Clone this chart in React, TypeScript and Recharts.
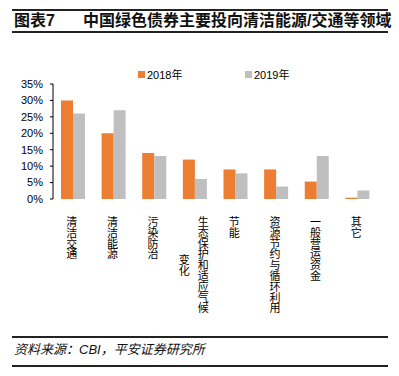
import React from 'react';
import { BarChart, Bar, XAxis, YAxis, Legend } from 'recharts';

const categories = ['清洁交通', '清洁能源', '污染防治', '生态保护和适应气候变化', '节能', '资源节约与循环利用', '一般营运资金', '其它'];
const values2018 = [30, 20, 14, 12, 9, 9, 5.3, 0.4];
const values2019 = [26, 27, 13.1, 6.1, 7.8, 3.8, 13.1, 2.6];
const yTicks = [0, 5, 10, 15, 20, 25, 30, 35];
const seriesNames = ['2018年', '2019年'];
const colors = ['#ED7D31', '#BFBFBF'];

const data = categories.map((name, i) => ({ name, a: values2018[i], b: values2019[i] }));
const boundaryTicks = categories.map((_, i) => i).concat([categories.length]);

const FONT = '"Liberation Sans", Arial, "Noto Sans CJK SC", sans-serif';
const MAXCOL = 9;
const LINE = 10.8;

const VerticalTick = (props: any) => {
  const x = Number(props.x);
  const y = Number(props.y);
  const label: string = String(props.payload.value);
  const cols: string[] = [];
  for (let i = 0; i < label.length; i += MAXCOL) cols.push(label.slice(i, i + MAXCOL));
  const colGap = 19;
  const baseX = x - 1.5;
  const firstH = cols[0].length * LINE;
  const items: React.ReactNode[] = [];
  cols.forEach((col, ci) => {
    const cx = baseX + ((cols.length - 1) / 2 - ci) * colGap;
    const h = col.length * LINE;
    const startY = y + 19 + (ci === 0 ? 0 : (firstH - h) / 2);
    Array.from(col).forEach((ch, k) => {
      items.push(
        <text key={`${ci}-${k}`} x={cx} y={startY + k * LINE} textAnchor="middle" fontSize={11} fill="#000" fontFamily={FONT}>
          {ch}
        </text>
      );
    });
  });
  return <g>{items}</g>;
};

const LegendContent = () => (
  <div style={{ display: 'flex', fontFamily: FONT, fontSize: 11, color: '#000' }}>
    {seriesNames.map((n, i) => (
      <div key={n} style={{ display: 'flex', alignItems: 'center', width: 107 }}>
        <span style={{ display: 'inline-block', width: 7, height: 7, background: colors[i], marginRight: 2 }} />
        <span>{n}</span>
      </div>
    ))}
  </div>
);

export default function App() {
  return (
    <div style={{ position: 'fixed', left: 0, top: 0, width: 399, height: 376, background: '#fff', fontFamily: FONT }}>
      <div style={{ position: 'absolute', left: 12, top: 9, width: 376, height: 1.5, background: '#222' }} />
      <div style={{ position: 'absolute', left: 14, top: 11, fontSize: 16, fontWeight: 'bold', color: '#111', lineHeight: '20px', whiteSpace: 'nowrap' }}>
        图表7
      </div>
      <div style={{ position: 'absolute', left: 83, top: 11, fontSize: 16, fontWeight: 'bold', color: '#111', lineHeight: '20px', whiteSpace: 'nowrap' }}>
        中国绿色债券主要投向清洁能源/交通等领域
      </div>
      <div style={{ position: 'absolute', left: 12, top: 31, width: 376, height: 1.5, background: '#222' }} />

      <div style={{ position: 'absolute', left: 0, top: 0 }}>
        <BarChart width={399} height={320} data={data} margin={{ top: 84, right: 21, left: 0, bottom: 6 }} barGap={0} barSize={12}>
          <XAxis xAxisId="num" type="number" domain={[0, categories.length]} ticks={boundaryTicks} allowDataOverflow height={0} tick={false} tickSize={3} stroke="#000" axisLine={{ stroke: '#000' }} tickLine={{ stroke: '#000' }} />
          <XAxis xAxisId="cat" dataKey="name" height={115} axisLine={false} tickLine={false} interval={0} tick={<VerticalTick />} />
          <YAxis domain={[0, 35]} ticks={yTicks} width={53} tickSize={3} tickMargin={7} interval={0} tickFormatter={(v: number) => `${v}%`} tick={{ fontSize: 11, fill: '#000', fontFamily: FONT }} axisLine={{ stroke: '#000' }} tickLine={{ stroke: '#000' }} />
          <Legend layout="horizontal" verticalAlign="middle" align="center" content={<LegendContent />} wrapperStyle={{ position: 'absolute', top: 66, left: 138, width: 220 }} />
          <Bar xAxisId="cat" dataKey="a" name={seriesNames[0]} fill={colors[0]} isAnimationActive={false} />
          <Bar xAxisId="cat" dataKey="b" name={seriesNames[1]} fill={colors[1]} isAnimationActive={false} />
        </BarChart>
      </div>

      <div style={{ position: 'absolute', left: 12, top: 336, width: 376, height: 1.5, background: '#222' }} />
      <div style={{ position: 'absolute', left: 14, top: 341, fontSize: 13, fontStyle: 'italic', color: '#111', lineHeight: '18px', whiteSpace: 'nowrap' }}>
        资料来源：CBI，平安证券研究所
      </div>
      <div style={{ position: 'absolute', left: 12, top: 365, width: 376, height: 1.5, background: '#222' }} />
    </div>
  );
}
